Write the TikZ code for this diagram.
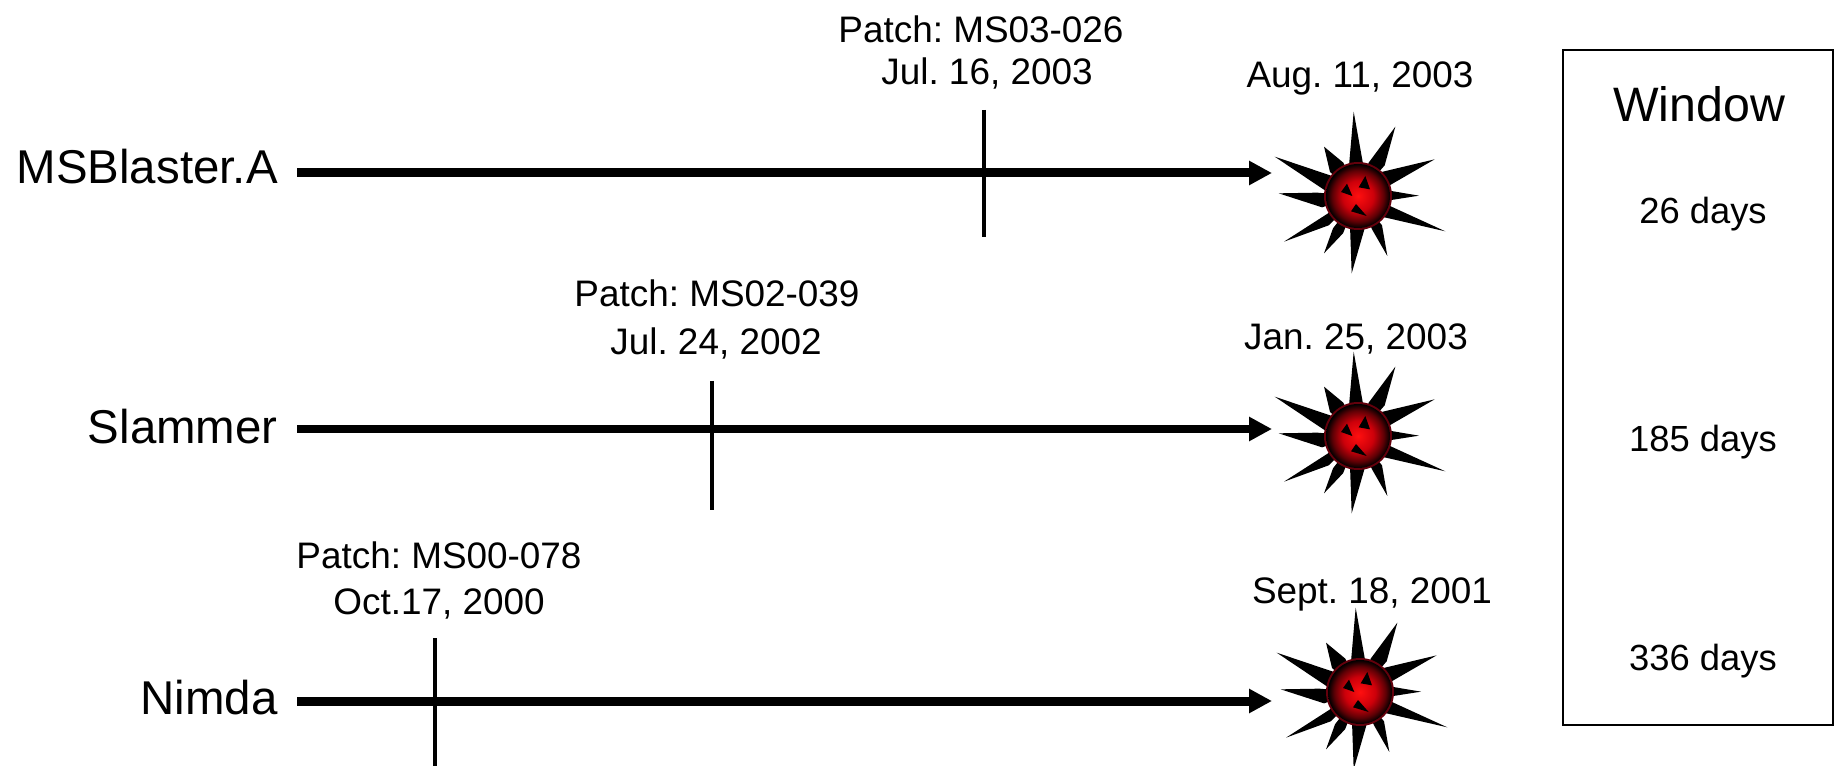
\documentclass[tikz,border=0pt]{standalone}
\usepackage{fontspec}
\setmainfont{Liberation Sans}
\usetikzlibrary{arrows.meta}
\definecolor{RojoVirus}{RGB}{255,15,15}
\definecolor{MedioVirus}{RGB}{205,0,10}
\definecolor{OscuroVirus}{RGB}{95,0,5}
\definecolor{HaloVirus}{RGB}{100,0,12}
\pgfdeclareradialshading{virusball}{\pgfpointorigin}{color(0bp)=(RojoVirus); color(12bp)=(MedioVirus); color(20bp)=(OscuroVirus); color(25bp)=(black); color(50bp)=(black)}
\tikzset{
  wormline/.style={line width=0.18cm,-{Triangle[length=0.46cm,width=0.46cm]}},
  patchline/.style={line width=0.08cm},
  rowname/.style={font=\fontsize{27}{30}\selectfont,anchor=east,inner sep=0pt},
  datetext/.style={font=\fontsize{21}{24}\selectfont,inner sep=0pt},
  windowtext/.style={font=\fontsize{20.7}{24}\selectfont,inner sep=0pt}
}
\newcommand{\burst}[1]{%
  \begin{scope}[shift={(#1)},scale=0.3333]
    % spikes as tip, then two foot points
    \foreach \xa/\ya/\xb/\yb/\xc/\yc in {
      -13/-253/-28/-80/18/-80,
      112/-208/32/-100/80/-92,
      230/-110/62/-70/88/-28,
      183/-1/100/-15/100/12,
      262/106/85/25/62/60,
      88/180/42/100/72/88,
      -19/232/-24/90/22/90,
      -102/172/-75/97/-45/112,
      -222/137/-68/38/-88/88,
      -238/-8/-122/-10/-108/34,
      -250/-118/-78/-60/-92/-12,
      -102/-148/-84/-72/-44/-100}
      \fill[black] (\xa,\ya) -- (\xb,\yb) -- (0,0) -- (\xc,\yc) -- cycle;
    \fill[HaloVirus] (0,0) circle (102);
    \shade[shading=virusball] (0,0) circle (96);
    \fill[black] (22,-60) -- (36,-20) -- (2,-26) -- cycle;
    \fill[black] (-33,-37) -- (-17,0) -- (-51,-12) -- cycle;
    \fill[black] (-6,24) -- (26,60) -- (-21,46) -- cycle;
  \end{scope}}

\frenchspacing
\begin{document}
\begin{tikzpicture}[x=0.02cm,y=-0.02cm]
  \useasboundingbox (0,0) rectangle (1835,766);

  \coordinate (blasterStart) at (297,173);
  \coordinate (blasterEnd) at (1272,173);
  \coordinate (blasterTop) at (984,110);
  \coordinate (blasterBot) at (984,237);
  \coordinate (slammerStart) at (297,429);
  \coordinate (slammerEnd) at (1272,429);
  \coordinate (slammerTop) at (712,381);
  \coordinate (slammerBot) at (712,510);
  \coordinate (nimdaStart) at (297,701);
  \coordinate (nimdaEnd) at (1272,701);
  \coordinate (nimdaTop) at (435,638);
  \coordinate (nimdaBot) at (435,766);

  \node[rowname] (blaster) at (278,167) {MSBlaster.A};
  \node[rowname] (slammer) at (278,427) {Slammer};
  \node[rowname] (nimda) at (278,698) {Nimda};

  \draw[wormline] (blasterStart) -- (blasterEnd);
  \draw[wormline] (slammerStart) -- (slammerEnd);
  \draw[wormline] (nimdaStart) -- (nimdaEnd);
  \draw[patchline] (blasterTop) -- (blasterBot);
  \draw[patchline] (slammerTop) -- (slammerBot);
  \draw[patchline] (nimdaTop) -- (nimdaBot);

  \burst{1358,196}
  \burst{1358,436}
  \burst{1360,692}

  \node[datetext] (patchA) at (981,29) {Patch: MS03-026};
  \node[datetext] (dateA) at (987,73) {Jul. 16, 2003};
  \node[datetext] (hitA) at (1360,78) {Aug. 11, 2003};
  \node[datetext] (patchB) at (717,293) {Patch: MS02-039};
  \node[datetext] (dateB) at (716,343) {Jul. 24, 2002};
  \node[datetext] (hitB) at (1356,339) {Jan. 25, 2003};
  \node[datetext] (patchC) at (439,555) {Patch: MS00-078};
  \node[datetext] (dateC) at (439,604) {Oct.17, 2000};
  \node[datetext] (hitC) at (1372,594) {Sept. 18, 2001};

  \draw[line width=0.05cm] (1563,50) rectangle (1833,725);
  \node[rowname,anchor=center,font=\fontsize{27.5}{30}\selectfont] (window) at (1699,104) {Window};
  \node[windowtext] (daysA) at (1703,214) {26 days};
  \node[windowtext] (daysB) at (1703,442) {185 days};
  \node[windowtext] (daysC) at (1703,661) {336 days};
\end{tikzpicture}
\end{document}
